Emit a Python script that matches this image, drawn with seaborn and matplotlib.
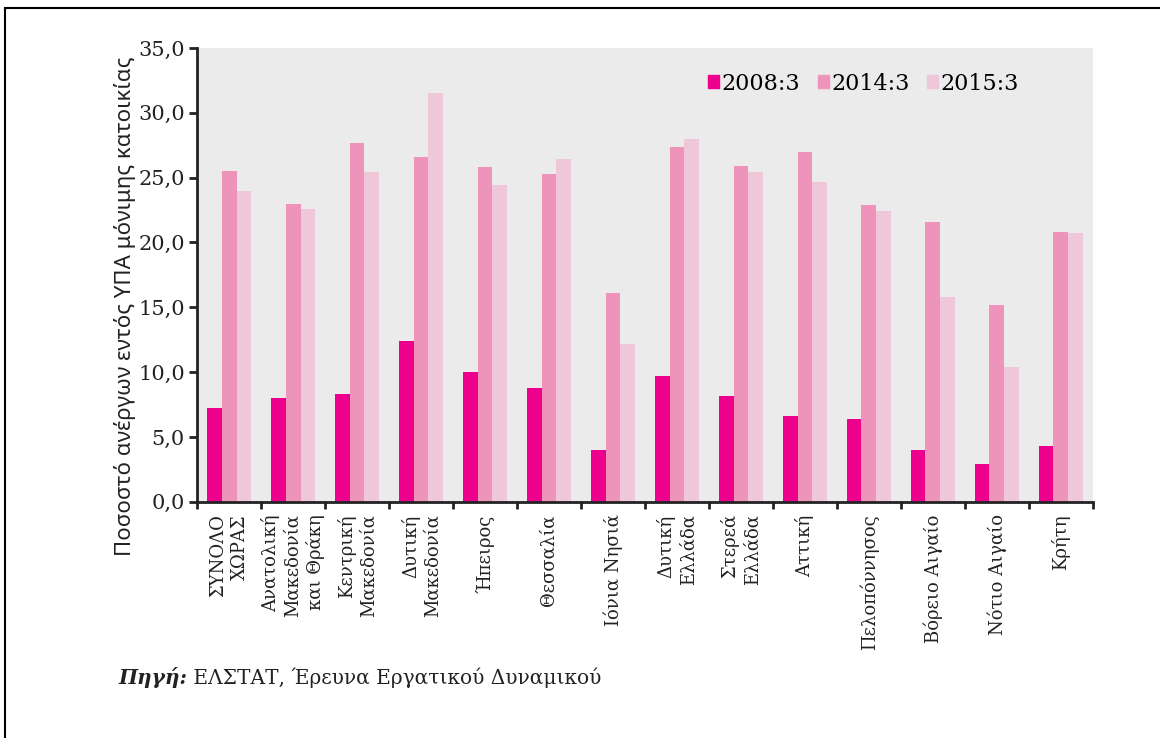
import numpy as np
import pandas as pd
import matplotlib
matplotlib.use('Agg')
import matplotlib.pyplot as plt
import matplotlib.patches as mpatches
import seaborn as sns

perioxes = ['ΣΥΝΟΛΟ\nΧΩΡΑΣ', 'Ανατολική\nΜακεδονία\nκαι Θράκη', 'Κεντρική\nΜακεδονία',
            'Δυτική\nΜακεδονία', 'Ήπειρος', 'Θεσσαλία', 'Ιόνια Νησιά', 'Δυτική\nΕλλάδα',
            'Στερεά\nΕλλάδα', 'Αττική', 'Πελοπόννησος', 'Βόρειο Αιγαίο', 'Νότιο Αιγαίο', 'Κρήτη']
periodoi = ['2008:3', '2014:3', '2015:3']
v2008 = [7.2, 8.0, 8.3, 12.4, 10.0, 8.8, 4.0, 9.7, 8.2, 6.6, 6.4, 4.0, 2.9, 4.3]
v2014 = [25.5, 23.0, 27.7, 26.6, 25.8, 25.3, 16.1, 27.4, 25.9, 27.0, 22.9, 21.6, 15.2, 20.8]
v2015 = [24.0, 22.6, 25.4, 31.5, 24.4, 26.4, 12.2, 28.0, 25.4, 24.7, 22.4, 15.8, 10.4, 20.7]
xromata = ['#EC008C', '#EE94BA', '#F0C7D8']

df = pd.DataFrame({'Περιοχή': perioxes * 3,
                   'Περίοδος': np.repeat(periodoi, len(perioxes)),
                   'Τιμή': v2008 + v2014 + v2015})

serif = ['DejaVu Serif']
fig = plt.figure(figsize=(11.6, 7.38), dpi=100)
ax = fig.add_axes([0.170, 0.320, 0.772, 0.615])
ax.set_facecolor('#EBEBEB')

sns.barplot(data=df, x='Περιοχή', y='Τιμή', hue='Περίοδος', palette=xromata,
            width=0.69, gap=0, saturation=1, ax=ax, linewidth=0)

ax.set_ylim(0, 35)
ax.set_xlim(-0.5, len(perioxes) - 0.5)
ax.set_yticks(np.arange(0, 36, 5))
ax.set_yticklabels([f'{t:.1f}'.replace('.', ',') for t in np.arange(0, 36, 5)],
                   fontsize=15, family=serif, color='#222222')
ax.set_xticks(range(len(perioxes)))
ax.set_xticklabels(perioxes, rotation=90, fontsize=13, family=serif, color='#222222',
                   va='top', ha='center', multialignment='right', linespacing=1.25)
ax.tick_params(axis='x', which='major', length=0, pad=9)
ax.set_xticks(np.arange(-0.5, len(perioxes), 1), minor=True)
ax.tick_params(axis='x', which='minor', length=5, width=2, direction='out', color='#222222')
ax.tick_params(axis='y', length=6, width=2, direction='out', color='#222222', pad=3)

for s in ['top', 'right']:
    ax.spines[s].set_visible(False)
for s in ['left', 'bottom']:
    ax.spines[s].set_linewidth(2)
    ax.spines[s].set_color('#222222')

ax.set_xlabel('')
ax.set_ylabel('Ποσοστό ανέργων εντός ΥΠΑ μόνιμης κατοικίας', fontsize=16,
              family=['Noto Sans'], color='#222222')
ax.yaxis.set_label_coords(-0.068, 0.43)

# υπόμνημα
handles = [mpatches.Patch(color=c, label=p) for c, p in zip(xromata, periodoi)]
ax.legend(handles=handles, loc='upper right', bbox_to_anchor=(0.94, 0.99), ncol=3,
          frameon=False, handlelength=0.5, handleheight=0.5, handletextpad=0.1,
          columnspacing=0.8, prop={'family': serif, 'size': 16})

# πηγή
t1 = fig.text(0.102, 0.073, 'Πηγή:', fontsize=14.5, family=serif, weight='bold',
              style='italic', color='#222222')
ax.annotate(' ΕΛΣΤΑΤ, Έρευνα Εργατικού Δυναμικού', xy=(1, 0), xycoords=t1,
            fontsize=14.5, family=serif, color='#222222', va='bottom', ha='left',
            annotation_clip=False)

fig.add_artist(mpatches.Rectangle((0.004, -0.05), 1.2, 1.039, transform=fig.transFigure,
                                  fill=False, edgecolor='black', linewidth=1.5))

fig.savefig('out.png', dpi=100)
